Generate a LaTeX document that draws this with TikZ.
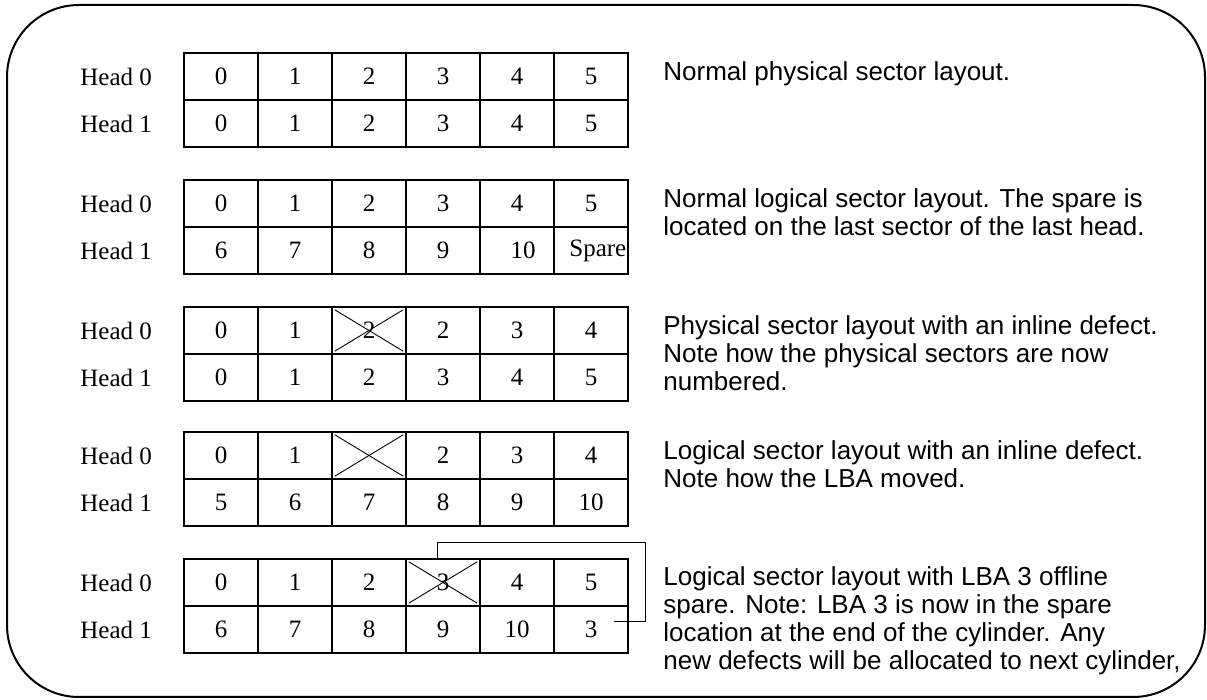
\documentclass[tikz,border=0pt]{standalone}
\usepackage{fontspec}
\setmainfont{Liberation Serif}
\newfontfamily\arialf{Liberation Sans}
\usetikzlibrary{calc}
\newcommand\mycellrow[3]{%
  \foreach \v [count=\i from 0] in {#3} {\node[cell] (#1c\i) at ({221+74*\i}, #2) {\v};}}
\begin{document}
\begin{tikzpicture}[x=0.5pt,y=-0.5pt,
  cell/.style={draw, line width=1.2pt, minimum width=37pt, minimum height=23.5pt, inner sep=0pt, font=\fontsize{12.5}{14}\selectfont},
  lbl/.style={font=\fontsize{12.5}{14}\selectfont, inner sep=0pt, anchor=west},
  note/.style={font=\arialf\fontsize{13}{15}\selectfont, inner sep=0pt, anchor=base west},
  cross/.style={line width=0.45pt},
  link/.style={line width=0.5pt},
  frame/.style={line width=1pt, rounded corners=36pt}]
\useasboundingbox (0,0) rectangle (1207,700);
\draw[frame] (7,5) rectangle (1205,697);

% grid 1
\node[lbl] (g1h0) at (80,76.5) {Head 0};
\node[lbl] (g1h1) at (80,123.5) {Head 1};
\mycellrow{g1r0}{76.5}{0,1,2,3,4,5}
\mycellrow{g1r1}{123.5}{0,1,2,3,4,5}
% grid 2
\node[lbl] (g2h0) at (80,203.5) {Head 0};
\node[lbl] (g2h1) at (80,250.5) {Head 1};
\mycellrow{g2r0}{203.5}{0,1,2,3,4,5}
\mycellrow{g2r1}{250.5}{6,7,8,9,{},{}}
\node[font=\fontsize{12.5}{14}\selectfont, inner sep=0pt] (g2t10) at (523,250.5) {10};
\node[font=\fontsize{12.5}{14}\selectfont, inner sep=0pt, anchor=west] (spare) at (569,250.5) {Spare};
% grid 3
\node[lbl] (g3h0) at (80,330.5) {Head 0};
\node[lbl] (g3h1) at (80,377.5) {Head 1};
\mycellrow{g3r0}{330.5}{0,1,2,2,3,4}
\mycellrow{g3r1}{377.5}{0,1,2,3,4,5}
% grid 4
\node[lbl] (g4h0) at (80,455.5) {Head 0};
\node[lbl] (g4h1) at (80,502.5) {Head 1};
\mycellrow{g4r0}{455.5}{0,1,{},2,3,4}
\mycellrow{g4r1}{502.5}{5,6,7,8,9,10}
% grid 5
\node[lbl] (g5h0) at (80,582.5) {Head 0};
\node[lbl] (g5h1) at (80,629.5) {Head 1};
\mycellrow{g5r0}{582.5}{0,1,2,3,4,5}
\mycellrow{g5r1}{629.5}{6,7,8,9,10,3}

% crossed-out sectors
\foreach \c in {g3r0c2,g4r0c2,g5r0c3}{
  \draw[cross] ($(\c.north west)+(4,4)$) -- ($(\c.south east)+(-4,-4)$);
  \draw[cross] ($(\c.south west)+(4,-4)$) -- ($(\c.north east)+(-4,4)$);
}

% relocation bracket
\coordinate (bs) at ($(g5r0c3.north)+(-6,0)$);
\coordinate (bk) at (645,543);
\coordinate (be) at ($(g5r1c5.east)+(-15,-8)$);
\draw[link] (bs) |- (bk) |- (be);

% notes
\node[note] (n1a) at (663,81) {Normal physical sector layout.};
\node[note] (n2a) at (663,208) {Normal logical sector layout. The spare is};
\node[note] (n2b) at (663,236) {located on the last sector of the last head.};
\node[note] (n3a) at (663,335) {Physical sector layout with an inline defect.};
\node[note] (n3b) at (663,363) {Note how the physical sectors are now};
\node[note] (n3c) at (663,391) {numbered.};
\node[note] (n4a) at (663,460) {Logical sector layout with an inline defect.};
\node[note] (n4b) at (663,488) {Note how the LBA moved.};
\node[note] (n5a) at (663,586) {Logical sector layout with LBA 3 offline};
\node[note] (n5b) at (663,614) {spare. Note: LBA 3 is now in the spare};
\node[note] (n5c) at (663,642) {location at the end of the cylinder. Any};
\node[note] (n5d) at (663,670) {new defects will be allocated to next cylinder,};
\end{tikzpicture}
\end{document}
